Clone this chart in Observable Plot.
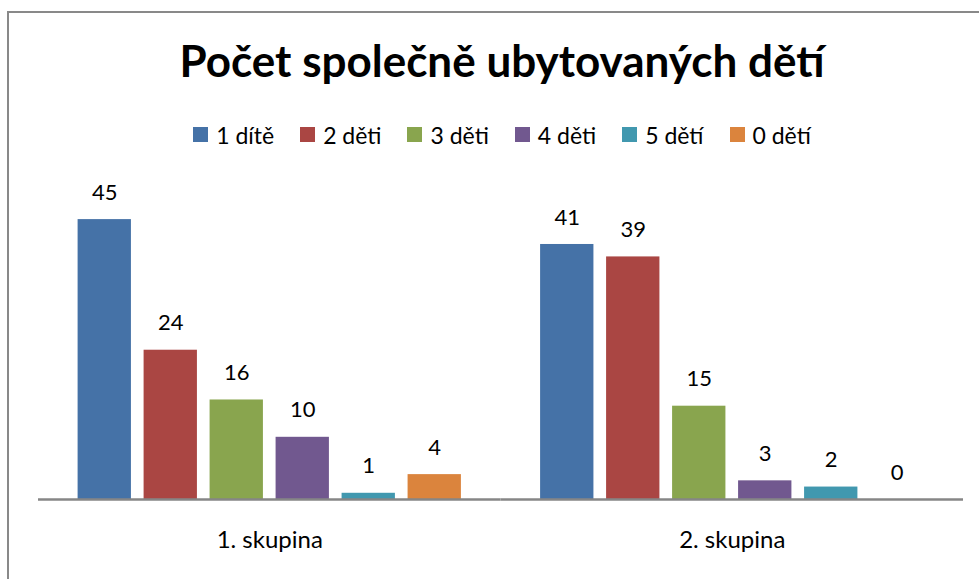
<!DOCTYPE html>
<html>
<head>
<meta charset="utf-8">
<script src="https://cdn.jsdelivr.net/npm/d3@7"></script>
<script src="https://cdn.jsdelivr.net/npm/@observablehq/plot@0.6"></script>
<style>
  html, body { margin: 0; padding: 0; background: #fff; }
  #page { position: relative; width: 979px; height: 579px; overflow: hidden; font-family: Lato, "Open Sans", sans-serif; }
  #frame { position: absolute; left: 7px; top: 11px; width: 1000px; height: 620px; border: 2px solid #898989; box-sizing: border-box; }
  #title { position: absolute; left: 0; top: 38px; width: 1004px; text-align: center; font-weight: 700; font-size: 44px; line-height: 44px; color: #000; }
  #legend { position: absolute; left: 0; top: 118px; width: 1004px; display: flex; justify-content: center; }
  #legend .lg-swatches { margin: 0 !important; font-size: 23px !important; font-family: Lato, "Open Sans", sans-serif !important; }
  #legend .lg-swatch { margin-right: 26px !important; font-size: 23px !important; color: #000; }
  #legend .lg-swatch:last-child { margin-right: 0 !important; }
  #legend .lg-swatch > svg { margin-right: 8px !important; }
  #chart { position: absolute; left: 0; top: 160px; }
</style>
</head>
<body>
<div id="page">
  <div id="frame"></div>
  <div id="title">Počet společně ubytovaných dětí</div>
  <div id="legend"></div>
  <div id="chart"></div>
</div>
<script>
const groups = ["1. skupina", "2. skupina"];
const series = ["1 dítě", "2 děti", "3 děti", "4 děti", "5 dětí", "0 dětí"];
const values1 = [45, 24, 16, 10, 1, 4];
const values2 = [41, 39, 15, 3, 2, 0];
const colors = ["#4572A7", "#AA4643", "#89A54E", "#71588F", "#4198AF", "#DB843D"];

const data = [];
series.forEach((s, i) => data.push({group: groups[0], series: s, value: values1[i]}));
series.forEach((s, i) => data.push({group: groups[1], series: s, value: values2[i]}));

const chart = Plot.plot({
  width: 979,
  height: 419,
  marginLeft: 38,
  marginRight: 16,
  marginTop: 28,
  marginBottom: 80,
  style: {fontFamily: "Lato, 'Open Sans', sans-serif", fontSize: "24px", color: "#000", background: "transparent", overflow: "visible"},
  fx: {domain: groups, padding: 0, round: false, label: null, tickSize: 0, tickPadding: 31},
  x: {domain: series, axis: null, paddingInner: 0.192, paddingOuter: 0.6, round: false},
  y: {domain: [0, 50], axis: null},
  color: {domain: series, range: colors},
  marks: [
    Plot.barY(data, {fx: "group", x: "series", y: "value", fill: "series"}),
    Plot.ruleY([0], {stroke: "#868686", strokeWidth: 2.5}),
    Plot.text(data, {fx: "group", x: "series", y: "value", text: d => String(d.value), dy: -27, fontSize: 22, fill: "#000"})
  ]
});
document.getElementById("chart").appendChild(chart);

const legend = Plot.legend({
  color: {domain: series, range: colors},
  swatchSize: 15,
  className: "lg",
  style: {fontFamily: "Lato, 'Open Sans', sans-serif", fontSize: "23px", color: "#000"}
});
document.getElementById("legend").appendChild(legend);
</script>
</body>
</html>
